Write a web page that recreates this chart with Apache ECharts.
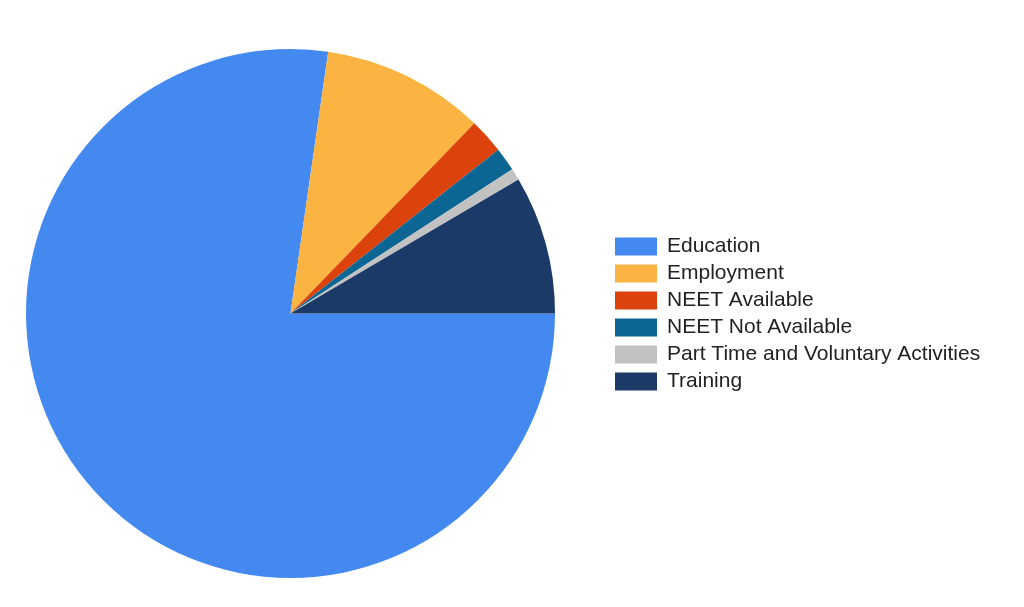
<!DOCTYPE html>
<html><head><meta charset="utf-8">
<script src="https://cdn.jsdelivr.net/npm/echarts@6/dist/echarts.min.js"></script>
<style>html,body{margin:0;padding:0;background:#fff}#c{width:1024px;height:607px}</style>
</head><body><div id="c"></div>
<script>
const categories = ["Education","Employment","NEET Available","NEET Not Available","Part Time and Voluntary Activities","Training"];
const values = [77.3, 9.96, 2.14, 1.45, 0.72, 8.46];
const colors = ["#4389f0","#fbb341","#dc420c","#0b6693","#c2c2c2","#1b3a68"];
const chart = echarts.init(document.getElementById('c'));
chart.setOption({
  animation:false,
  color: colors,
  legend:{
    orient:'vertical', left:615, top:236, padding:0,
    itemWidth:42, itemHeight:18, itemGap:6,
    icon:'rect',
    data: categories,
    textStyle:{fontFamily:'Liberation Sans, Arial, sans-serif', fontSize:21, color:'#222', padding:[0,0,0,5]}
  },
  series:[{
    type:'pie', center:[290.5,313.5], radius:264.5, startAngle:0, clockwise:true,
    label:{show:false}, labelLine:{show:false},
    itemStyle:{borderWidth:0},
    data: categories.map((n,i)=>({name:n, value:values[i]}))
  }]
});
</script></body></html>
